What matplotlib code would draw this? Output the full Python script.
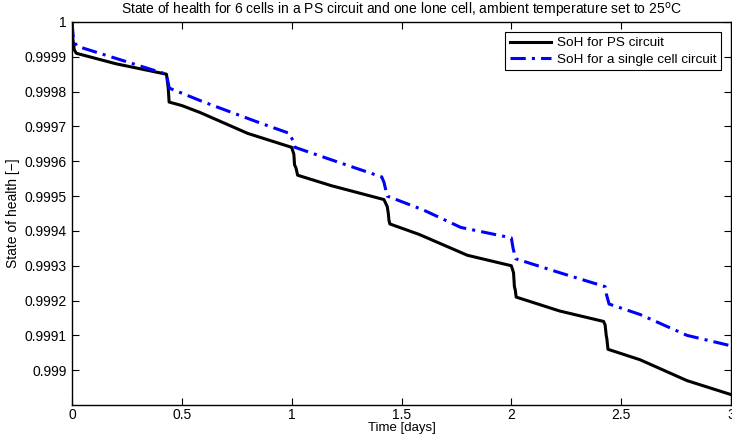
import matplotlib
matplotlib.use("Agg")
import matplotlib.pyplot as plt

plt.rcParams['font.family'] = ['Liberation Sans', 'DejaVu Sans']

title = "State of health for 6 cells in a PS circuit and one lone cell, ambient temperature set to 25$^{\\mathrm{o}}$C"
xlabel = "Time [days]"
ylabel = "State of health [\u2212]"
legend_labels = ["SoH for PS circuit", "SoH for a single cell circuit"]

t_ps = [0.0, 0.004, 0.01, 0.02, 0.2, 0.43, 0.432, 0.436, 0.438, 0.442, 0.5, 0.583, 0.8, 1.0, 1.01, 1.013, 1.02, 1.027,
        1.18, 1.3, 1.42, 1.435, 1.44, 1.443, 1.447, 1.58, 1.8, 2.0, 2.01, 2.014, 2.018, 2.022, 2.22, 2.42, 2.427,
        2.432, 2.435, 2.44, 2.586, 2.8, 3.0]
soh_ps = [1.0, 0.99995, 0.99992, 0.99991, 0.99988, 0.99985, 0.99984, 0.99982, 0.99981, 0.99977, 0.99976, 0.99974,
          0.99968, 0.99964, 0.99962, 0.99959, 0.99958, 0.99956, 0.99953, 0.99951, 0.99949, 0.99947, 0.99945,
          0.99943, 0.99942, 0.99939, 0.99933, 0.99930, 0.99928, 0.99924, 0.99923, 0.99921, 0.99917, 0.99914,
          0.99913, 0.99910, 0.99909, 0.99906, 0.99903, 0.99897, 0.99893]

t_single = [0.0, 0.005, 0.012, 0.025, 0.43, 0.436, 0.443, 0.6, 0.856, 0.99, 1.005, 1.015, 1.2, 1.41, 1.42, 1.435,
            1.6, 1.77, 2.0, 2.008, 2.02, 2.22, 2.427, 2.432, 2.445, 2.586, 2.8, 3.0]
soh_single = [1.0, 0.99996, 0.99994, 0.99993, 0.99985, 0.99983, 0.99981, 0.99977, 0.99971, 0.99968, 0.99966,
              0.99964, 0.99960, 0.999555, 0.99954, 0.99950, 0.99946, 0.99941, 0.99938, 0.99935, 0.99932,
              0.99928, 0.99924, 0.99922, 0.99919, 0.99916, 0.99910, 0.99907]

xticks = [0, 0.5, 1, 1.5, 2, 2.5, 3]
xticklabels = ['0', '0.5', '1', '1.5', '2', '2.5', '3']
yticks = [0.999, 0.9991, 0.9992, 0.9993, 0.9994, 0.9995, 0.9996, 0.9997, 0.9998, 0.9999, 1.0]
yticklabels = ['0.999', '0.9991', '0.9992', '0.9993', '0.9994', '0.9995', '0.9996', '0.9997', '0.9998',
               '0.9999', '1']

fig = plt.figure(figsize=(7.32, 4.37), dpi=100)
ax = fig.add_axes([0.0984, 0.0732, 0.9002, 0.8765])

ax.plot(t_ps, soh_ps, color='black', linewidth=2.2, label=legend_labels[0])
ax.plot(t_single, soh_single, color='#0000ff', linewidth=2.2, dashes=(5, 2, 1, 2), label=legend_labels[1])

ax.set_xlim(0, 3)
ax.set_ylim(0.9989, 1.0)
ax.set_xticks(xticks)
ax.set_xticklabels(xticklabels)
ax.set_yticks(yticks)
ax.set_yticklabels(yticklabels)
ax.tick_params(direction='in', top=True, right=True, length=5, width=0.8, labelsize=10)
ax.tick_params(axis='x', pad=2.5)
ax.tick_params(axis='y', pad=4)
for s in ax.spines.values():
    s.set_linewidth(1.0)

ax.set_title(title, fontsize=10, pad=5)
ax.set_xlabel(xlabel, fontsize=9.5, labelpad=0)
ax.set_ylabel(ylabel, fontsize=10, labelpad=3)

leg = ax.legend(loc='upper right', fontsize=9.7, fancybox=False, edgecolor='black', framealpha=1,
                handlelength=3.0, borderaxespad=0.75, borderpad=0.35, labelspacing=0.3, handletextpad=0.45)
leg.get_frame().set_linewidth(0.8)

fig.savefig('out.png', dpi=100)
